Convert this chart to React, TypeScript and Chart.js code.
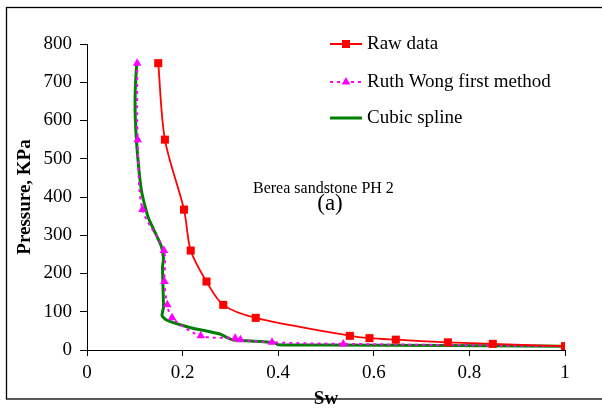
import React, { useEffect, useRef } from "react";
import { Chart, registerables } from "chart.js";

Chart.register(...registerables);

const pressure = [750, 550, 367, 260, 179, 118, 84, 37, 31, 27, 20, 16, 10];
const rawSw = [0.149, 0.163, 0.203, 0.217, 0.25, 0.285, 0.353, 0.55, 0.591, 0.646, 0.755, 0.849, 1.0];
const ruthWongSw = [0.105, 0.106, 0.116, 0.161, 0.162, 0.168, 0.178, 0.238, 0.31, 0.321, 0.387, 0.536, 1.0];
const splineSw = [0.104, 0.101, 0.101, 0.105, 0.114, 0.128, 0.155, 0.16, 0.158, 0.16, 0.157, 0.167, 0.215, 0.278, 0.292, 0.306, 0.39, 0.4, 0.5, 1.0];
const splineP = [750, 680, 608, 521, 416, 347, 273, 240, 216, 111, 90, 78, 59, 42, 33, 26, 20, 14, 13, 10];

const seriesNames = ["Raw data", "Ruth Wong first method", "Cubic spline"];
const xTicks = [0, 0.2, 0.4, 0.6, 0.8, 1];
const yTicks = [0, 100, 200, 300, 400, 500, 600, 700, 800];
const annotation = "Berea sandstone PH 2";
const panelLabel = "(a)";

const FONT = "'Liberation Serif', 'Times New Roman', serif";

const decorPlugin = {
  id: "decor",
  afterDraw(chart: any) {
    const ctx = chart.ctx;
    ctx.save();
    // outer border
    ctx.strokeStyle = "#000";
    ctx.lineWidth = 1.3;
    ctx.strokeRect(6.5, 7.5, 610, 391.5);

    // annotation
    ctx.fillStyle = "#000";
    ctx.textBaseline = "middle";
    ctx.textAlign = "left";
    ctx.font = `16px ${FONT}`;
    ctx.fillText(annotation, 253, 189);
    ctx.textAlign = "center";
    ctx.font = `23px ${FONT}`;
    ctx.fillText(panelLabel, 330, 204);

    // legend
    const lx0 = 330, lx1 = 362, tx = 367;
    const rows = [44, 82, 118];
    // raw data
    ctx.strokeStyle = "#ff0000";
    ctx.lineWidth = 2;
    ctx.setLineDash([]);
    ctx.beginPath();
    ctx.moveTo(lx0, rows[0]);
    ctx.lineTo(lx1, rows[0]);
    ctx.stroke();
    ctx.fillStyle = "#ff0000";
    ctx.fillRect(346 - 4, rows[0] - 4, 8, 8);
    // ruth wong
    ctx.strokeStyle = "#ff00ff";
    ctx.lineWidth = 2;
    ctx.setLineDash([3, 4]);
    ctx.beginPath();
    ctx.moveTo(lx0, rows[1]);
    ctx.lineTo(lx1, rows[1]);
    ctx.stroke();
    ctx.setLineDash([]);
    ctx.fillStyle = "#ff00ff";
    const r = 5;
    ctx.beginPath();
    ctx.moveTo(346, rows[1] - r);
    ctx.lineTo(346 + r * 0.866, rows[1] + r * 0.5);
    ctx.lineTo(346 - r * 0.866, rows[1] + r * 0.5);
    ctx.closePath();
    ctx.fill();
    // spline
    ctx.strokeStyle = "#008000";
    ctx.lineWidth = 3;
    ctx.beginPath();
    ctx.moveTo(lx0, rows[2]);
    ctx.lineTo(lx1, rows[2]);
    ctx.stroke();

    ctx.fillStyle = "#000";
    ctx.textAlign = "left";
    ctx.textBaseline = "middle";
    ctx.font = `19px ${FONT}`;
    seriesNames.forEach((n, i) => ctx.fillText(n, tx, rows[i]));
    ctx.restore();
  },
};

export default function App() {
  const ref = useRef<HTMLCanvasElement>(null);
  useEffect(() => {
    document.body.style.margin = "0";
    const chart = new Chart(ref.current as HTMLCanvasElement, {
      type: "scatter",
      data: {
        datasets: [
          {
            label: seriesNames[0],
            data: rawSw.map((x, i) => ({ x, y: pressure[i] })),
            showLine: true,
            borderColor: "#ff0000",
            backgroundColor: "#ff0000",
            borderWidth: 1.8,
            tension: 0.3,
            pointStyle: "rect",
            pointRadius: 5.7,
            pointBorderWidth: 0,
            order: 1,
          },
          {
            label: seriesNames[1],
            data: ruthWongSw.map((x, i) => ({ x, y: pressure[i] })),
            showLine: true,
            borderColor: "#ff00ff",
            backgroundColor: "#ff00ff",
            borderWidth: 2,
            borderDash: [3, 4],
            tension: 0.3,
            pointStyle: "triangle",
            pointRadius: 5,
            pointBorderWidth: 0,
            order: 2,
          },
          {
            label: seriesNames[2],
            data: splineSw.map((x, i) => ({ x, y: splineP[i] })),
            showLine: true,
            borderColor: "#008000",
            backgroundColor: "#008000",
            borderWidth: 3,
            tension: 0.2,
            pointRadius: 0,
            order: 3,
          },
        ],
      },
      options: {
        responsive: false,
        animation: false,
        layout: { padding: { left: 14, top: 44, right: 37, bottom: 0 } },
        plugins: { legend: { display: false }, tooltip: { enabled: false } },
        scales: {
          x: {
            type: "linear",
            min: 0,
            max: 1,
            afterFit: (s: any) => { s.height = 60; },
            afterBuildTicks: (s: any) => { s.ticks = xTicks.map((v) => ({ value: v })); },
            border: { color: "#000", width: 1 },
            grid: { drawOnChartArea: false, color: "#000", tickLength: 6, tickWidth: 1 },
            ticks: {
              color: "#000",
              font: { family: FONT, size: 19 },
              padding: 6,
              maxRotation: 0,
              callback: (v: any) => String(Number(v)),
            },
            title: {
              display: true,
              text: "Sw",
              color: "#000",
              font: { family: FONT, size: 19, weight: "bold" },
              padding: 0,
            },
          },
          y: {
            type: "linear",
            min: 0,
            max: 800,
            afterFit: (s: any) => { s.width = 73; },
            afterBuildTicks: (s: any) => { s.ticks = yTicks.map((v) => ({ value: v })); },
            border: { color: "#000", width: 1 },
            grid: { drawOnChartArea: false, color: "#000", tickLength: 7, tickWidth: 1 },
            ticks: {
              color: "#000",
              font: { family: FONT, size: 19 },
              padding: 8,
              callback: (v: any) => String(v),
            },
            title: {
              display: true,
              text: "Pressure, KPa",
              color: "#000",
              font: { family: FONT, size: 19, weight: "bold" },
              padding: 0,
            },
          },
        },
      },
      plugins: [decorPlugin],
    });
    return () => chart.destroy();
  }, []);
  return (
    <div style={{ width: 602, height: 410 }}>
      <canvas ref={ref} width={602} height={410} style={{ display: "block" }} />
    </div>
  );
}
